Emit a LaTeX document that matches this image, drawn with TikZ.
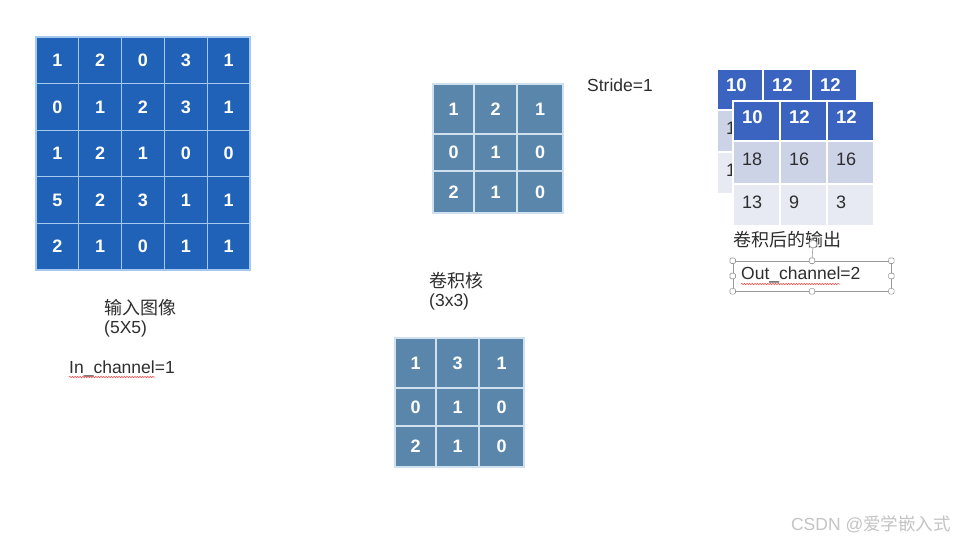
\documentclass[tikz,border=0pt]{standalone}
\usepackage{fontspec}
\setmainfont{Liberation Sans}
\newfontfamily\cjk{Noto Sans CJK SC}
\usetikzlibrary{decorations.pathmorphing}
\definecolor{inblue}{HTML}{1F62B8}
\definecolor{ingrid}{HTML}{A4C8EE}
\definecolor{kblue}{HTML}{5A86AB}
\definecolor{kgrid}{HTML}{CFE0EE}
\definecolor{hblue}{HTML}{3B64C0}
\definecolor{rowa}{HTML}{CDD3E7}
\definecolor{rowb}{HTML}{E7E9F3}
\definecolor{txt}{HTML}{2E2E2E}
\definecolor{wm}{HTML}{C4C4C4}
\definecolor{handlegray}{HTML}{9A9A9A}
\newcommand\mkcell[7]{\node[#1, minimum width={(#5-#3)*1pt}, minimum height={(#6-#4)*1pt}] (#2) at ({(#3+#5)/2},{(#4+#6)/2}) {#7};}
\begin{document}
\begin{tikzpicture}[x=1pt,y=-1pt,
  incell/.style={draw=ingrid, fill=inblue, line width=1.2pt, inner sep=0pt, text=white, font=\bfseries\fontsize{18}{18}\selectfont},
  kcell/.style={draw=kgrid, fill=kblue, line width=1.2pt, inner sep=0pt, text=white, font=\bfseries\fontsize{18}{18}\selectfont},
  hcell/.style={draw=white, fill=hblue, line width=1.5pt, inner xsep=9pt, inner ysep=0pt, text=white, align=left, text width={#1}, text depth=8pt, font=\bfseries\fontsize{18.5}{18.5}\selectfont},
  bcellA/.style={draw=white, fill=rowa, line width=1.5pt, inner xsep=9pt, inner ysep=0pt, text=txt, align=left, text width={#1}, text depth=6pt, font=\fontsize{18}{18}\selectfont},
  bcellB/.style={draw=white, fill=rowb, line width=1.5pt, inner xsep=9pt, inner ysep=0pt, text=txt, align=left, text width={#1}, text depth=6pt, font=\fontsize{18}{18}\selectfont},
  lbl/.style={anchor=west, inner sep=0pt, text=txt, font=\fontsize{17.5}{18}\selectfont},
  cjklbl/.style={anchor=west, inner sep=0pt, text=txt, font=\cjk\fontsize{18}{18}\selectfont},
  handle/.style={draw=handlegray, fill=white, line width=0.6pt, rounded corners=1.2pt, minimum size=5.5pt, inner sep=0pt},
  wavy/.style={draw=red!75, line width=0.5pt, decorate, decoration={snake, amplitude=0.7pt, segment length=2.6pt}}
]
\useasboundingbox[fill=white] (0,0) rectangle (955,542);

% ---------- input image 5x5 ----------
\foreach \r/\vals in {0/{1,2,0,3,1},1/{0,1,2,3,1},2/{1,2,1,0,0},3/{5,2,3,1,1},4/{2,1,0,1,1}}{
  \foreach \v [count=\c from 0] in \vals {
    \node[incell, minimum width=42.8pt, minimum height=46.6pt] (in-\r-\c)
      at ({36+42.8*\c+21.4},{37+46.6*\r+23.3}) {\v};
  }
}

% ---------- kernel 1 ----------
\mkcell{kcell}{ka11}{433}{84}{474}{134}{1}
\mkcell{kcell}{ka12}{474}{84}{517}{134}{2}
\mkcell{kcell}{ka13}{517}{84}{563}{134}{1}
\mkcell{kcell}{ka21}{433}{134}{474}{171}{0}
\mkcell{kcell}{ka22}{474}{134}{517}{171}{1}
\mkcell{kcell}{ka23}{517}{134}{563}{171}{0}
\mkcell{kcell}{ka31}{433}{171}{474}{213}{2}
\mkcell{kcell}{ka32}{474}{171}{517}{213}{1}
\mkcell{kcell}{ka33}{517}{171}{563}{213}{0}

% ---------- kernel 2 ----------
\mkcell{kcell}{kb11}{395}{338}{436}{388}{1}
\mkcell{kcell}{kb12}{436}{338}{479}{388}{3}
\mkcell{kcell}{kb13}{479}{338}{524}{388}{1}
\mkcell{kcell}{kb21}{395}{388}{436}{426}{0}
\mkcell{kcell}{kb22}{436}{388}{479}{426}{1}
\mkcell{kcell}{kb23}{479}{388}{524}{426}{0}
\mkcell{kcell}{kb31}{395}{426}{436}{467}{2}
\mkcell{kcell}{kb32}{436}{426}{479}{467}{1}
\mkcell{kcell}{kb33}{479}{426}{524}{467}{0}

% ---------- output, back channel ----------
\mkcell{hcell=28pt}{oa11}{717}{69}{763}{110}{10}
\mkcell{hcell=30pt}{oa12}{763}{69}{811}{110}{12}
\mkcell{hcell=28pt}{oa13}{811}{69}{857}{110}{12}
\mkcell{bcellA=28pt}{oa21}{717}{110}{763}{152}{1}
\mkcell{bcellA=30pt}{oa22}{763}{110}{811}{152}{}
\mkcell{bcellA=28pt}{oa23}{811}{110}{857}{152}{}
\mkcell{bcellB=28pt}{oa31}{717}{152}{763}{194}{1}
\mkcell{bcellB=30pt}{oa32}{763}{152}{811}{194}{}
\mkcell{bcellB=28pt}{oa33}{811}{152}{857}{194}{}

% ---------- output, front channel ----------
\mkcell{hcell=29pt}{ob11}{733}{101}{780}{141}{10}
\mkcell{hcell=29pt}{ob12}{780}{101}{827}{141}{12}
\mkcell{hcell=29pt}{ob13}{827}{101}{874}{141}{12}
\mkcell{bcellA=29pt}{ob21}{733}{141}{780}{184}{18}
\mkcell{bcellA=29pt}{ob22}{780}{141}{827}{184}{16}
\mkcell{bcellA=29pt}{ob23}{827}{141}{874}{184}{16}
\mkcell{bcellB=29pt}{ob31}{733}{184}{780}{226}{13}
\mkcell{bcellB=29pt}{ob32}{780}{184}{827}{226}{9}
\mkcell{bcellB=29pt}{ob33}{827}{184}{874}{226}{3}

% ---------- labels ----------
\node[lbl] (stride) at (587,85) {Stride=1};
\node[cjklbl] (outlbl) at (733,240) {卷积后的输出};

% selection box around Out_channel
\node[draw=handlegray, line width=0.6pt, minimum width=158pt, minimum height=30pt, inner sep=0pt] (selbox) at (812,276) {};
\node[lbl] (outch) at (741,275) {Out\_channel=2};
\coordinate (ow1) at (741,284);
\coordinate (ow2) at (840,284);
\draw[wavy] (ow1) -- (ow2);
\node[draw=handlegray, fill=white, circle, line width=0.7pt, minimum size=8pt, inner sep=0pt] (rot) at (813,244) {};
\node[handle] (hn) at (selbox.north) {};
\draw[handlegray, line width=0.6pt] (rot) -- (hn);
\node[handle] (hnw) at (selbox.north west) {};
\node[handle] (hne) at (selbox.north east) {};
\node[handle] (hw) at (selbox.west) {};
\node[handle] (he) at (selbox.east) {};
\node[handle] (hsw) at (selbox.south west) {};
\node[handle] (hs) at (selbox.south) {};
\node[handle] (hse) at (selbox.south east) {};

\node[cjklbl] (inlbl) at (104,308) {输入图像};
\node[lbl] (insize) at (104,329) {(5X5)};
\node[lbl] (inch) at (69,369) {In\_channel=1};
\coordinate (iw1) at (69,377);
\coordinate (iw2) at (155,377);
\draw[wavy] (iw1) -- (iw2);

\node[cjklbl] (klbl) at (429,281) {卷积核};
\node[lbl] (ksize) at (429,302) {(3x3)};

\node[anchor=east, inner sep=0pt, text=wm, font=\fontsize{17.5}{17.5}\selectfont] (wmark) at (951,524) {CSDN @{\cjk 爱学嵌入式}};
\end{tikzpicture}
\end{document}
